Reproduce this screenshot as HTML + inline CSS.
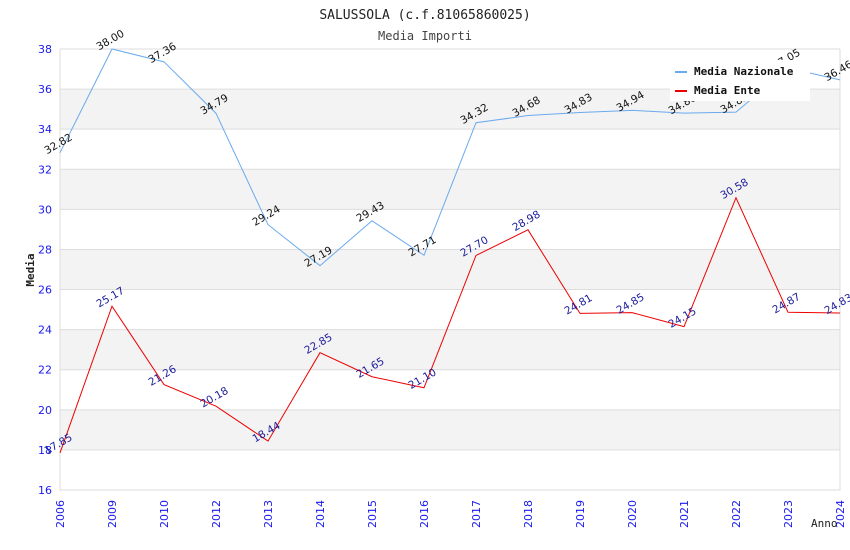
<!DOCTYPE html>
<html><head><meta charset="utf-8"><style>
body{margin:0;background:#fff}
svg{display:block}
.mono{font-family:"DejaVu Sans Mono","Liberation Mono",monospace}
.sans{font-family:"DejaVu Sans","Liberation Sans",sans-serif}
</style></head><body>
<svg id="chart" width="850" height="550" xmlns="http://www.w3.org/2000/svg">
<text class="mono" x="425" y="19" text-anchor="middle" font-size="13" fill="#222">SALUSSOLA (c.f.81065860025)</text>
<text class="mono" x="425" y="40" text-anchor="middle" font-size="12" fill="#444">Media Importi</text>
<g id="bands"></g><g id="grid"></g><g id="axes"></g><g id="series"></g>
<text class="mono" x="34" y="270" transform="rotate(-90 34 270)" text-anchor="middle" font-size="11" font-weight="bold" fill="#222">Media</text>
<text class="mono" x="811" y="527" font-size="11" fill="#222">Anno</text>
<g>
<rect x="670" y="60" width="140" height="41" fill="#fff"/>
<rect x="675" y="71" width="12" height="2" fill="#6aaaee"/>
<text class="mono" x="694" y="75" font-size="11" font-weight="bold" fill="#111">Media Nazionale</text>
<rect x="675" y="90" width="12" height="2" fill="#ee0000"/>
<text class="mono" x="694" y="94" font-size="11" font-weight="bold" fill="#111">Media Ente</text>
</g>
</svg>
<script>
const categories=["2006","2009","2010","2012","2013","2014","2015","2016","2017","2018","2019","2020","2021","2022","2023","2024"];
const nazionale=[32.82,38.00,37.36,34.79,29.24,27.19,29.43,27.71,34.32,34.68,34.83,34.94,34.80,34.85,37.05,36.46];
const ente=[17.85,25.17,21.26,20.18,18.44,22.85,21.65,21.10,27.70,28.98,24.81,24.85,24.15,30.58,24.87,24.83];
const yTicks=[16,18,20,22,24,26,28,30,32,34,36,38];
const NS="http://www.w3.org/2000/svg";
const L=60,R=840,T=49,B=490,ymin=16,ymax=38;
const x=i=>L+i*(R-L)/(categories.length-1);
const y=v=>B-(v-ymin)*(B-T)/(ymax-ymin);
function mk(tag,attrs,parent){const e=document.createElementNS(NS,tag);for(const k in attrs)e.setAttribute(k,attrs[k]);document.getElementById(parent).appendChild(e);return e;}
yTicks.forEach((t,i)=>{
 if(i<yTicks.length-1 && i%2===1){const b=mk('rect',{x:L,y:y(t+2),width:R-L,height:y(t)-y(t+2),fill:'#f3f3f3'},'bands');
 
 }
 const g=mk('line',{x1:L,x2:R,y1:y(t),y2:y(t),stroke:'#ddd'},'grid');
 
 
 const tl=mk('text',{class:'sans',x:L-8,y:y(t)+4,'text-anchor':'end','font-size':11,fill:'#1a1aee'},'axes');tl.textContent=t;
 
 
});
const ax=mk('path',{d:`M${L} ${T}V${B}H${R}V${T}`,fill:'none',stroke:'#ddd'},'axes');


categories.forEach((c,i)=>{
 const t=mk('text',{class:'sans',x:x(i)+4,y:528,transform:`rotate(-90 ${x(i)+4} 528)`,'font-size':11,fill:'#1a1aee'},'axes');t.textContent=c;
 
 
});
function series(vals,color,lcolor,name){
 const p=mk('polyline',{points:vals.map((v,i)=>x(i)+','+y(v)).join(' '),fill:'none',stroke:color,'stroke-width':1},'series');
 
 
 vals.forEach((v,i)=>{
  const tx=x(i),ty=y(v)-6;
  const t=mk('text',{class:'sans',x:tx,y:ty,transform:`rotate(-30 ${tx} ${ty})`,'text-anchor':'middle','font-size':10.5,fill:lcolor},'series');
  t.textContent=v.toFixed(2);
  
  
 });
}
series(nazionale,'#6aaaee','#111','nazionale');
series(ente,'#ee0000','#1a1a99','ente');
</script>
</body></html>
